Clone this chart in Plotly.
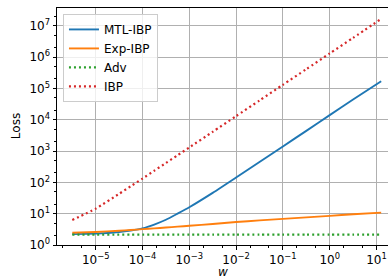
import plotly.graph_objects as go

# x values (w)
w = [3.16e-6, 1e-5, 3.16e-5, 5.6e-5, 1e-4, 1.78e-4, 3.16e-4, 5.6e-4, 1e-3, 3.16e-3,
     1e-2, 3.16e-2, 1e-1, 3.16e-1, 1.0, 3.16, 12.6]

mtl_ibp = [2.22, 2.3, 2.6, 2.9, 3.4, 4.5, 6.4, 10, 16, 46,
           142, 445, 1400, 4400, 14000, 44000, 168000]
exp_ibp = [2.45, 2.6, 2.85, 3.0, 3.2, 3.4, 3.6, 3.85, 4.1, 4.7,
           5.4, 6.1, 6.8, 7.6, 8.5, 9.6, 10.8]
adv = [2.15] * 17
ibp = [6.3, 14.5, 43, 75, 132, 235, 413, 730, 1300, 4100,
       13000, 41000, 130000, 410000, 1300000, 4100000, 16500000]

x_tickvals = [1e-5, 1e-4, 1e-3, 1e-2, 1e-1, 1, 10]
x_ticktext = ["10<sup>−5</sup>", "10<sup>−4</sup>", "10<sup>−3</sup>", "10<sup>−2</sup>",
              "10<sup>−1</sup>", "10<sup>0</sup>", "10<sup>1</sup>"]
y_tickvals = [1, 10, 1e2, 1e3, 1e4, 1e5, 1e6, 1e7]
y_ticktext = ["10<sup>0</sup>", "10<sup>1</sup>", "10<sup>2</sup>", "10<sup>3</sup>",
              "10<sup>4</sup>", "10<sup>5</sup>", "10<sup>6</sup>", "10<sup>7</sup>"]

names = ["MTL-IBP", "Exp-IBP", "Adv", "IBP"]
colors = ["#1f77b4", "#ff7f0e", "#2ca02c", "#d62728"]
series = [mtl_ibp, exp_ibp, adv, ibp]
dashes = ["solid", "solid", "2px,3px", "2px,3px"]

fig = go.Figure()
for n, c, s, d in zip(names, colors, series, dashes):
    fig.add_trace(go.Scatter(x=w, y=s, name=n, mode="lines",
                             line=dict(color=c, width=1.9 if d == "solid" else 2.2,
                                       dash=d, shape="spline", smoothing=0.6)))

fig.update_layout(
    width=388, height=277,
    margin=dict(l=57, r=0, t=8, b=32, autoexpand=False),
    paper_bgcolor="white", plot_bgcolor="white",
    font=dict(family="DejaVu Sans", size=11, color="black"),
    showlegend=True,
    legend=dict(x=0.018, y=0.975, xanchor="left", yanchor="top",
                bgcolor="rgba(255,255,255,0.8)", bordercolor="#cccccc", borderwidth=1,
                font=dict(family="DejaVu Sans", size=12), tracegroupgap=0,
                itemwidth=30),
    annotations=[
        dict(text="<i>w</i>", xref="paper", yref="paper", x=0.5, y=-0.113,
             xanchor="center", yanchor="middle", showarrow=False,
             font=dict(family="DejaVu Sans", size=12)),
        dict(text="Loss", xref="paper", yref="paper", x=-0.125, y=0.5,
             xanchor="center", yanchor="middle", showarrow=False, textangle=-90,
             font=dict(family="DejaVu Sans", size=12)),
    ],
)
fig.update_xaxes(
    type="log", range=[-5.827, 1.246], automargin=False,
    showline=True, linecolor="black", linewidth=1, mirror=True,
    ticks="outside", ticklen=3.5, tickcolor="black",
    showgrid=True, gridcolor="#b0b0b0", gridwidth=1,
    tickvals=x_tickvals, ticktext=x_ticktext,
    tickfont=dict(family="DejaVu Sans", size=12),
    minor=dict(ticks="outside", ticklen=2, tickcolor="black", showgrid=False),
    zeroline=False,
)
fig.update_yaxes(
    type="log", range=[0, 7.565], automargin=False,
    showline=True, linecolor="black", linewidth=1, mirror=False,
    ticks="outside", ticklen=3.5, tickcolor="black",
    showgrid=True, gridcolor="#b0b0b0", gridwidth=1,
    tickvals=y_tickvals, ticktext=y_ticktext,
    tickfont=dict(family="DejaVu Sans", size=12),
    minor=dict(ticks="outside", ticklen=2, tickcolor="black", showgrid=False),
    zeroline=False,
)
fig.write_html("out.html", config={"displayModeBar": False},
               post_script="document.body.style.margin='0';document.body.style.overflow='hidden';")
